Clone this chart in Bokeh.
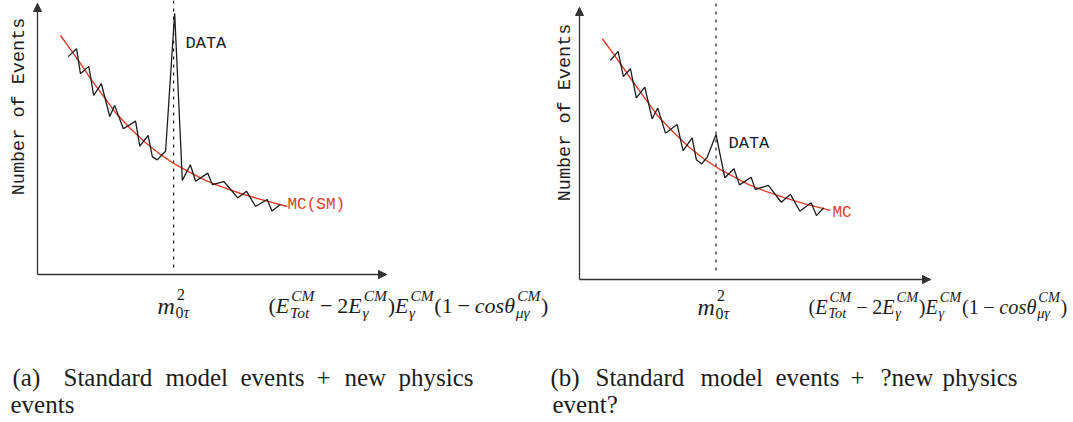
import math
from bokeh.plotting import figure
from bokeh.models import Range1d, Label, Arrow, NormalHead, FixedTicker
from bokeh.layouts import row
from bokeh.embed import file_html
from bokeh.resources import INLINE

# ---------------- data (arbitrary units) ----------------
# panel (a): SM events + new physics
bins_a = [8.8, 11.2, 12.3, 14.7, 16.1, 18.3, 20.7, 22.1, 24.6, 28.1, 29.3, 31.7, 32.9, 34.3,
          36.7, 39.3, 41.5, 43.8, 45.3, 48.8, 50.1, 53.4, 57.4, 59.9, 62.5, 65.8, 67.2, 69.6]
events_a = [80.4, 83.3, 74.1, 76.8, 66.1, 70.4, 58.3, 62.4, 53.8, 56.6, 47.4, 51.3, 43.5, 42.3,
            45.5, 96.4, 34.7, 40.5, 34.4, 37.4, 33.2, 34.3, 28.3, 30.7, 25.1, 27.7, 23.4, 25.8]
mc_x_a = [6.6, 9.5, 12.3, 15.2, 18.1, 22.3, 26.6, 30.9, 35.2, 39.5, 43.8, 48.1, 52.4, 58.2, 63.9, 71.6]
mc_a = [88.2, 83.0, 77.9, 72.3, 67.2, 59.8, 53.9, 48.7, 44.3, 40.6, 37.6, 34.7, 32.5, 29.9, 27.7, 25.1]
m0_a = 39.0

# panel (b): SM events + ?new physics event?
bins_b = [8.8, 11.0, 12.5, 14.5, 16.2, 18.6, 20.7, 22.3, 24.5, 27.8, 29.5, 32.1, 33.3, 34.8,
          36.4, 38.9, 41.4, 44.0, 45.6, 48.9, 50.1, 53.8, 57.5, 60.1, 62.8, 66.0, 67.5, 69.6]
events_b = [80.5, 83.9, 74.6, 77.5, 66.8, 70.7, 59.1, 63.0, 53.8, 57.0, 47.4, 52.1, 44.0, 42.5,
            45.0, 53.3, 37.4, 40.7, 34.8, 37.6, 33.1, 34.6, 28.4, 31.3, 25.1, 28.2, 23.5, 26.4]
mc_x_b = [6.5, 9.5, 12.4, 15.3, 18.2, 22.4, 26.7, 31.0, 35.3, 39.6, 43.9, 48.2, 52.5, 58.3, 64.0, 71.5]
mc_b = [88.5, 83.2, 78.0, 72.6, 67.4, 60.0, 54.2, 48.9, 44.5, 40.8, 37.8, 34.9, 32.7, 30.1, 27.9, 25.4]
m0_b = 38.9

ylabel = "Number of Events"
data_label = "DATA"
mc_label_a = "MC(SM)"
mc_label_b = "MC"
caption_a = [["(a)", "Standard", "model", "events", "+", "new", "physics"], ["events"]]
caption_b = [["(b)", "Standard", "model", "events", "+", "?new", "physics"], ["event?"]]

# ---------------- styles ----------------
RED = "#e03c28"
INK = "#1c1c1c"
AXIS = "#333333"
MONO = "Liberation Mono"
SERIF = "Liberation Serif"

W_R = {"(": .333, ")": .333, "0": .5, "1": .5, "2": .5, "\u2212": .564, " ": .25}
W_I = {"E": .611, "T": .556, "o": .5, "t": .278, "C": .667, "M": .833, "c": .444,
       "s": .389, "m": .722, "\u03b8": .5, "\u03b3": .44, "\u03bc": .5, "\u03c4": .44}


def tw(s, style):
    tab = W_I if style == "italic" else W_R
    return sum(tab.get(ch, .5) for ch in s)


def math_layout(tokens, F, S):
    out = []
    x = 0.0
    for tok in tokens:
        kind = tok[0]
        if kind in ("r", "i"):
            st = "italic" if kind == "i" else "normal"
            out.append((tok[1], x, 0.0, F, st))
            x += tw(tok[1], st) * F
        elif kind == "op":
            x += 0.222 * F
            out.append(("\u2212", x, 0.0, F, "normal"))
            x += (0.564 + 0.222) * F
        elif kind == "ss":
            sup, sub = tok[1], tok[2]
            x0 = x + 0.03 * F
            w = 0.0
            xx = x0 + 0.06 * F
            for t, st in sup:
                out.append((t, xx, 0.45 * F, S, st))
                xx += tw(t, st) * S
            w = max(w, xx - x0)
            xx = x0
            for t, st in sub:
                out.append((t, xx, -0.30 * F, S, st))
                xx += tw(t, st) * S
            w = max(w, xx - x0)
            x = x0 + w + 0.03 * F
    return out


I = "italic"
R = "normal"
formula = [("r", "("), ("i", "E"), ("ss", [("CM", I)], [("Tot", I)]), ("op",), ("r", "2"), ("i", "E"),
           ("ss", [("CM", I)], [("\u03b3", I)]), ("r", ")"), ("i", "E"), ("ss", [("CM", I)], [("\u03b3", I)]),
           ("r", "("), ("r", "1"), ("op",), ("i", "cos"), ("i", "\u03b8"),
           ("ss", [("CM", I)], [("\u03bc\u03b3", I)]), ("r", ")")]
m0tau = [("i", "m"), ("ss", [("2", R)], [("0", R), ("\u03c4", I)])]

H = 422


def make_panel(g, bins, events, mc_x, mc, m0, mc_text, data_xy, mc_xy, caption, cap_pos, fF, fS):
    W = g["w"]
    ox = g["ox"]
    fx0, fx1, fy0, fy1 = g["fx0"] - ox, g["fx1"] - ox, g["fy0"], g["fy1"]
    sx = (fx1 - fx0) / 100.0
    sy = (fy1 - fy0) / 100.0

    def X(px):  # global page pixel -> data
        return (px - ox - fx0) / sx

    def Y(py):
        return (fy1 - py) / sy

    p = figure(width=W, height=H, output_backend="svg", toolbar_location=None,
               x_range=Range1d(X(ox), X(ox + W)), y_range=Range1d(Y(H), Y(0)),
               min_border=0, min_border_left=0, min_border_right=0,
               min_border_top=0, min_border_bottom=0)
    p.outline_line_color = None
    p.grid.visible = False
    p.background_fill_color = "white"
    p.border_fill_color = "white"
    for ax in (p.xaxis[0], p.yaxis[0]):
        ax.fixed_location = 0
        ax.bounds = (0, 100)
        ax.ticker = FixedTicker(ticks=[])
        ax.major_tick_line_color = None
        ax.minor_tick_line_color = None
        ax.major_tick_out = 0
        ax.major_tick_in = 0
        ax.major_label_standoff = 0
        ax.axis_label_standoff = 0
        ax.axis_line_color = AXIS
        ax.axis_line_width = 1.3

    # arrow heads on the axes
    p.add_layout(Arrow(end=NormalHead(size=8, fill_color=AXIS, line_color=AXIS, line_width=1),
                       x_start=0, y_start=0, x_end=0, y_end=100, line_alpha=0))
    p.add_layout(Arrow(end=NormalHead(size=8, fill_color=AXIS, line_color=AXIS, line_width=1),
                       x_start=0, y_start=0, x_end=100, y_end=0, line_alpha=0))

    # dashed m0 line
    p.line([m0, m0], [Y(g["dash_bottom"]), Y(0)], line_color=INK, line_width=1.2, line_dash="3 5")
    # MC curve and data
    p.line(mc_x, mc, line_color=RED, line_width=1.4)
    p.line(bins, events, line_color=INK, line_width=1.3)

    p.add_layout(Label(x=X(data_xy[0]), y=Y(data_xy[1]), text=data_label, text_font=MONO,
                       text_font_size="17px", text_color=INK, text_baseline="middle", text_align="left"))
    p.add_layout(Label(x=X(mc_xy[0]), y=Y(mc_xy[1]), text=mc_text, text_font=MONO,
                       text_font_size="16px", text_color=RED, text_baseline="middle", text_align="left"))
    p.add_layout(Label(x=X(g["yl"][0]), y=Y(g["yl"][1]), text=ylabel, text_font=MONO, angle=math.pi / 2,
                       text_font_size="18.5px", text_color=INK, text_baseline="middle", text_align="center"))

    # x-axis labels (math pieces)
    for toks, (bx, by), F, S in ((m0tau, g["m0"], 24, 16), (formula, g["fm"], fF, fS)):
        for t, dx, dy, size, st in math_layout(toks, F, S):
            p.add_layout(Label(x=X(bx + dx), y=Y(by - dy), text=t, text_font=SERIF, text_font_style=st,
                               text_font_size=f"{size:.1f}px", text_color=INK,
                               text_baseline="alphabetic", text_align="left"))
    # caption (justified words), positioned by the middle of each line
    for line, xs, ym in zip(caption, cap_pos, (376.5, 403.5)):
        for wd, wx in zip(line, xs):
            p.add_layout(Label(x=X(wx), y=Y(ym), text=wd, text_font=SERIF, text_font_size="25px",
                               text_color=INK, text_baseline="middle", text_align="left"))
    return p


geo_a = dict(ox=0, w=549, fx0=37, fx1=386, fy0=3, fy1=274, dash_bottom=267,
             yl=(19, 106), m0=(157, 305), fm=(268, 305))
geo_b = dict(ox=549, w=524, fx0=579, fx1=930, fy0=7, fy1=279, dash_bottom=270,
             yl=(565, 112), m0=(697, 306), fm=(808, 306))

pa = make_panel(geo_a, bins_a, events_a, mc_x_a, mc_a, m0_a, mc_label_a, (185, 43), (287, 204),
                caption_a, [[12, 63, 165, 240, 316, 344, 398], [10]], 22, 15.5)
pb = make_panel(geo_b, bins_b, events_b, mc_x_b, mc_b, m0_b, mc_label_b, (728, 143), (832, 212),
                caption_b, [[550, 595, 700, 775, 850, 880, 942], [552]], 20.3, 14.4)

layout = row(pa, pb)
open("out.html", "w").write(file_html(layout, INLINE))
